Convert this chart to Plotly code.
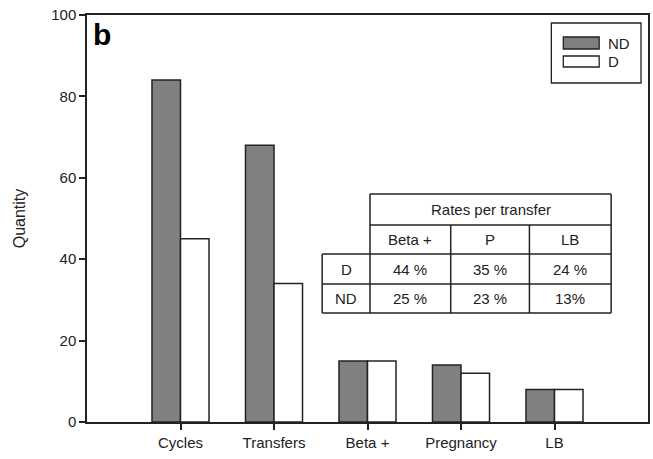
import plotly.graph_objects as go

categories = ["Cycles", "Transfers", "Beta +", "Pregnancy", "LB"]
nd_values = [84, 68, 15, 14, 8]
d_values = [45, 34, 15, 12, 8]
series_names = ["ND", "D"]

table_title = "Rates per transfer"
table_cols = ["Beta +", "P", "LB"]
table_rows = ["D", "ND"]
table_cells = [["44 %", "35 %", "24 %"], ["25 %", "23 %", "13%"]]

W, H = 653, 459
L, R, T, B = 87, 3, 15, 37
PW, PH = W - L - R, H - T - B

def px(x):
    return (x - L) / PW

def py(y):
    return (H - B - y) / PH

LINE = "#222222"
FONT = "Liberation Sans, Arial, sans-serif"

fig = go.Figure()
fig.add_trace(go.Bar(x=categories, y=nd_values, name=series_names[0],
                     marker=dict(color="#808080", line=dict(color=LINE, width=1.5)),
                     showlegend=False))
fig.add_trace(go.Bar(x=categories, y=d_values, name=series_names[1],
                     marker=dict(color="white", line=dict(color=LINE, width=1.5)),
                     showlegend=False))

shapes = []
annotations = []

# Legend (manual)
shapes.append(dict(type="rect", xref="paper", yref="paper", x0=px(553), x1=px(643),
                   y0=py(83), y1=py(23), line=dict(color=LINE, width=1.3), fillcolor="white"))
shapes.append(dict(type="rect", xref="paper", yref="paper", x0=px(565), x1=px(601),
                   y0=py(49), y1=py(37), line=dict(color=LINE, width=1.3), fillcolor="#808080"))
shapes.append(dict(type="rect", xref="paper", yref="paper", x0=px(565), x1=px(601),
                   y0=py(67), y1=py(56), line=dict(color=LINE, width=1.3), fillcolor="white"))
for name, yc in zip(series_names, [43, 61.5]):
    annotations.append(dict(text=name, xref="paper", yref="paper", x=px(608), y=py(yc),
                            xanchor="left", yanchor="middle", showarrow=False,
                            font=dict(size=15, color=LINE, family=FONT)))

# Table (manual)
vx = [323, 371, 452, 531, 613]
hy = [194, 225, 254, 284, 313]
shapes.append(dict(type="rect", xref="paper", yref="paper", x0=px(371), x1=px(613),
                   y0=py(254), y1=py(194), line=dict(width=0), fillcolor="white", layer="above"))
shapes.append(dict(type="rect", xref="paper", yref="paper", x0=px(323), x1=px(613),
                   y0=py(313), y1=py(254), line=dict(width=0), fillcolor="white", layer="above"))

def seg(x0, y0, x1, y1):
    shapes.append(dict(type="line", xref="paper", yref="paper", x0=px(x0), y0=py(y0),
                       x1=px(x1), y1=py(y1), line=dict(color=LINE, width=1.5), layer="above"))

seg(371, 194, 613, 194)
seg(371, 225, 613, 225)
seg(323, 254, 613, 254)
seg(323, 284, 613, 284)
seg(323, 313, 613, 313)
seg(323, 254, 323, 313)
seg(371, 194, 371, 313)
seg(452, 225, 452, 313)
seg(531, 225, 531, 313)
seg(613, 194, 613, 313)

def txt(s, x, y):
    annotations.append(dict(text=s, xref="paper", yref="paper", x=px(x), y=py(y),
                            xanchor="center", yanchor="middle", showarrow=False,
                            font=dict(size=15, color=LINE, family=FONT)))

txt(table_title, (371 + 613) / 2, (194 + 225) / 2)
for j, c in enumerate(table_cols):
    txt(c, (vx[j + 1] + vx[j + 2]) / 2, (225 + 254) / 2)
for i, r in enumerate(table_rows):
    yc = (hy[i + 2] + hy[i + 3]) / 2
    txt(r, (323 + 371) / 2, yc)
    for j, v in enumerate(table_cells[i]):
        txt(v, (vx[j + 1] + vx[j + 2]) / 2, yc)

# panel letter
annotations.append(dict(text="<b>b</b>", xref="paper", yref="paper", x=px(91), y=py(34),
                        xanchor="left", yanchor="middle", showarrow=False,
                        font=dict(size=30, color="black", family=FONT)))

fig.update_layout(
    width=W, height=H,
    margin=dict(l=L, r=R, t=T, b=B),
    paper_bgcolor="white", plot_bgcolor="white",
    barmode="group", bargap=0.39, bargroupgap=0,
    shapes=shapes, annotations=annotations,
    font=dict(family=FONT, size=15, color=LINE),
    showlegend=False,
)
fig.update_xaxes(range=[-1, 5], showline=True, linecolor=LINE, linewidth=1.5, mirror=True,
                 ticks="outside", ticklen=6, tickcolor=LINE, tickwidth=1.5,
                 showgrid=False, tickfont=dict(size=15, color=LINE))
fig.update_yaxes(range=[0, 100], dtick=20, showline=True, linecolor=LINE, linewidth=1.5,
                 mirror=True, ticks="outside", ticklen=6, tickcolor=LINE, tickwidth=1.5,
                 showgrid=False, zeroline=False, tickfont=dict(size=15, color=LINE),
                 title=dict(text="Quantity", font=dict(size=16, color=LINE), standoff=22))

fig.write_html("out.html", config={"displayModeBar": False},
               post_script="document.body.style.margin='0px';document.body.style.padding='0px';")
